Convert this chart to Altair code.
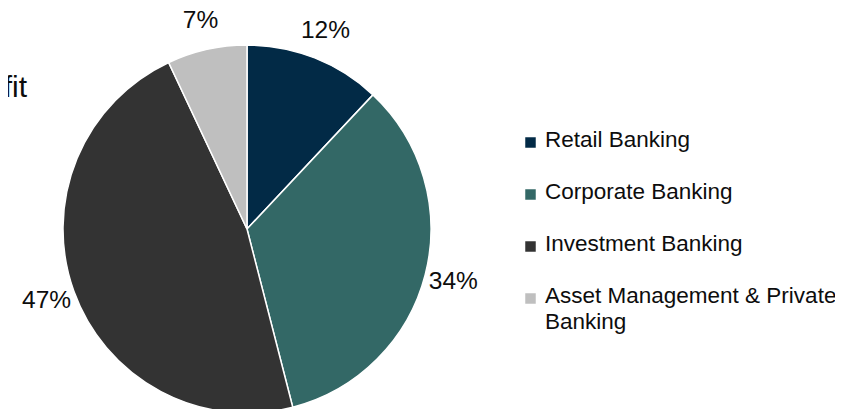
import altair as alt
import pandas as pd

# ---- data ----
categories = ["Retail Banking", "Corporate Banking", "Investment Banking",
              "Asset Management & Private Banking"]
shares = [12, 34, 47, 7]
legend_lines = ["Retail Banking", "Corporate Banking", "Investment Banking",
                "Asset Management & Private\nBanking"]
colors = ["#022a46", "#336866", "#333333", "#bfbfbf"]
title_text = "Profit"

df = pd.DataFrame({
    "category": categories,
    "share": shares,
    "order": list(range(len(categories))),
    "label": [f"{v}%" for v in shares],
    "legend_text": legend_lines,
})

W, H = 827, 401
CX, CY, R = 239, 221, 184

color = alt.Color("category:N",
                  scale=alt.Scale(domain=categories, range=colors),
                  legend=None)
theta = alt.Theta("share:Q", stack=True)
order = alt.Order("order:Q")

base = alt.Chart(df)

pie = base.mark_arc(radius=R, stroke="white", strokeWidth=1.5).encode(
    theta=theta, color=color, order=order,
    x=alt.value(CX), y=alt.value(CY),
)

labels = base.mark_text(radius=213, fontSize=24.5, font="Liberation Sans",
                        color="#0d0d0d", align="center", baseline="middle").encode(
    theta=theta, order=order, text="label:N",
    x=alt.value(CX), y=alt.value(CY),
)

leg_y = alt.Y("order:Q", scale=alt.Scale(domain=[0, 3], range=[139, 295]), axis=None)

leg_sym = base.mark_square(size=110, opacity=1, yOffset=-4.5).encode(
    x=alt.value(522.5), y=leg_y, color=color,
)

leg_txt = base.mark_text(fontSize=22.5, font="Liberation Sans", color="#0d0d0d",
                         align="left", baseline="alphabetic", lineBreak="\n",
                         lineHeight=26).encode(
    x=alt.value(537), y=leg_y, text="legend_text:N",
)

title = alt.Chart(alt.Data(values=[{"t": title_text}])).mark_text(
    fontSize=30, font="Liberation Sans", color="#0d0d0d",
    align="right", baseline="alphabetic").encode(
    x=alt.value(19), y=alt.value(89), text="t:N",
)

chart = alt.layer(pie, labels, leg_sym, leg_txt, title).properties(
    width=W, height=H,
    autosize=alt.AutoSizeParams(type="none"),
    padding=0,
).configure_view(stroke=None)

chart.save("out.html", embed_options={"renderer": "svg", "actions": False})
